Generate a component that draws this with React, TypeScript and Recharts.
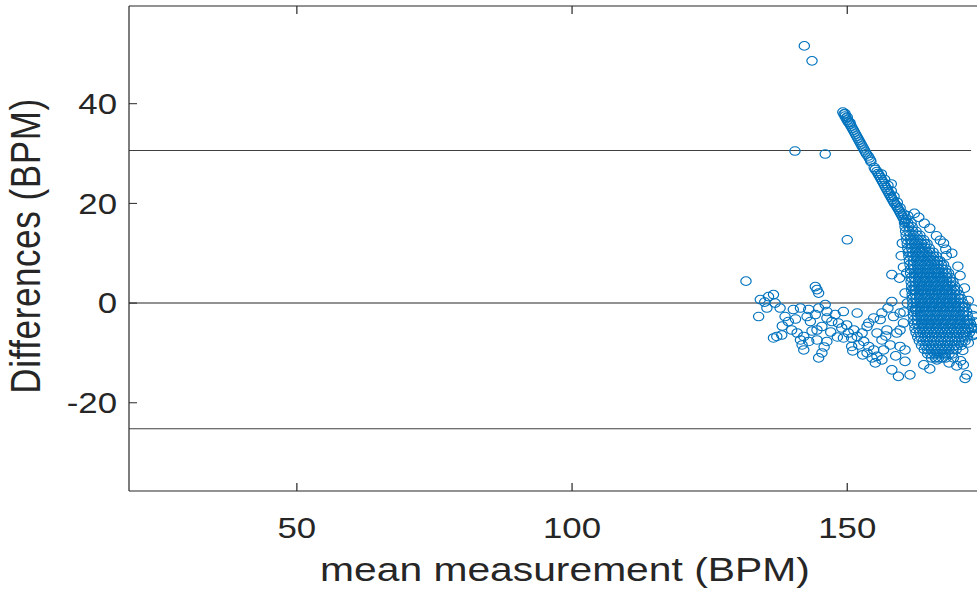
import React from 'react';
import { ScatterChart, Scatter, XAxis, YAxis, ReferenceLine } from 'recharts';

const xTicks = [50, 100, 150];
const yTicks = [-20, 0, 20, 40];
const xDomain: [number, number] = [19.5, 177.9];
const yDomain: [number, number] = [-37.7, 59.6];
const upperLoA = 30.6;
const zeroLine = 0;
const lowerLoA = -25.2;
const lineXRange: [number, number] = [19.5, 172.5];
const xLabelText = 'mean measurement (BPM)';
const yLabelText = 'Differences (BPM)';

const outliers: [number, number][] = [
  [142.2, 51.6], [143.6, 48.6], [140.5, 30.5], [146.0, 29.9], [150.0, 12.7], [131.6, 4.4], [158.0, 23.9],
  [144.2, 3.3], [144.5, 2.7], [144.8, 2.0],
];

const streak: [number, number][] = [
  [149.2, 38.3], [149.6, 38.0], [149.4, 37.9], [149.6, 37.5], [150.0, 37.3], [149.8, 37.1], [150.0, 36.7],
  [150.5, 36.2], [150.2, 36.3], [150.5, 35.9], [150.7, 35.5], [150.9, 35.1], [151.1, 34.7], [151.3, 34.3],
  [151.5, 33.9], [151.7, 33.5], [151.9, 33.1], [152.1, 32.7], [152.3, 32.3], [152.5, 31.9], [152.7, 31.5],
  [152.9, 31.1], [153.1, 30.7], [153.3, 30.3], [153.5, 29.9], [153.8, 29.5], [154.0, 29.1], [154.2, 28.7],
  [154.3, 28.4],
  [154.9, 27.2], [155.1, 26.8], [155.4, 26.4], [155.6, 26.0], [155.8, 25.6], [156.0, 25.2], [156.2, 24.8],
  [156.4, 24.4], [156.6, 24.0], [156.8, 23.6], [157.0, 23.2], [157.2, 22.8], [157.4, 22.4], [157.6, 22.0],
  [157.8, 21.6], [158.0, 21.2], [158.2, 20.8], [158.4, 20.4], [158.6, 20.0], [158.9, 19.6], [159.1, 19.2],
  [159.3, 18.8], [159.5, 18.4], [159.7, 18.0], [159.9, 17.6], [160.1, 17.2], [160.3, 16.8], [160.5, 16.4],
  [156.2, 25.9], [156.8, 24.8], [157.4, 23.6], [158.0, 22.5], [158.5, 21.4], [159.1, 20.2], [159.6, 19.1],
  [160.2, 17.9], [160.7, 16.8],
];

const lowerBand: [number, number][] = [
  [134.2, 0.7], [135.7, 1.3], [136.6, 1.7], [136.9, 0.0], [133.9, -2.7], [135.4, -1.0],
  [137.8, -1.0], [138.7, -2.7], [139.3, -3.7], [140.2, -1.3], [141.5, -1.0], [139.9, -5.4], [140.9, -6.0],
  [137.2, -6.7], [136.6, -7.0], [138.1, -6.4], [141.5, -7.4], [142.1, -6.7], [141.8, -8.4], [142.7, -2.7],
  [143.3, -3.7], [144.2, -2.3], [143.0, -1.3], [144.8, -1.0], [146.0, -0.3], [146.3, -1.7], [144.5, -5.4],
  [145.4, -4.7], [146.3, -3.0], [147.2, -3.7], [147.8, -2.3], [148.4, -4.0], [149.0, -5.0], [149.9, -4.4],
  [150.2, -6.0], [151.2, -5.4], [151.8, -6.7], [150.8, -7.0], [152.7, -6.0], [153.0, -7.7], [152.1, -8.4],
  [153.9, -8.7], [153.6, -10.0], [154.8, -9.4], [154.5, -11.0], [155.4, -10.7], [155.1, -12.0], [156.3, -11.4],
  [144.5, -7.4], [146.3, -7.7], [144.8, -11.0], [145.4, -10.0], [143.0, -7.7], [142.1, -9.4], [153.9, -4.0],
  [156.0, -3.3], [156.3, -2.0], [154.8, -3.0], [157.2, -5.4], [158.1, 0.3], [158.4, -2.7], [159.6, -2.0],
  [160.2, -4.0], [159.0, -6.0], [159.6, -5.4], [156.3, -7.4], [157.8, -8.4], [156.6, -9.4], [159.6, -8.7],
  [160.5, -9.4], [160.5, -11.7], [158.1, -13.4], [159.3, -14.7], [161.4, -14.4], [163.9, -12.4], [166.3, -11.4],
  [169.3, -11.0], [171.1, -12.4], [171.7, -14.4], [171.4, -15.1], [172.6, -5.0], [158.1, 5.7], [160.8, 6.0],
  [162.1, 2.7], [162.4, -1.3], [151.8, -2.0], [149.3, -1.7], [153.6, -4.7], [155.4, -6.0], [149.3, -7.0],
  [150.8, -8.7], [135.0, 0.2], [138.2, -4.6], [140.6, -3.2], [143.6, -5.6], [147.0, -5.8], [148.2, -6.8],
  [151.0, -9.6], [152.8, -10.4], [157.0, -6.6], [158.8, -10.6], [157.4, -1.0], [145.8, -8.8],
];

const blobEdge: [number, number][] = [
  [173.0, -5.0], [172.8, -6.5], [170.6, -11.6], [169.9, -12.6], [168.5, -12.0], [165.0, -13.2], [171.0, -9.5],
  [172.0, -8.0], [167.5, 12.0], [166.2, 13.5], [165.0, 15.0], [164.0, 16.0], [163.0, 17.2], [162.2, 18.0],
  [161.0, 17.5], [160.0, 12.0], [159.8, 9.5], [160.2, 7.2], [159.5, 5.0], [160.5, 2.0], [160.9, 0.0],
  [160.3, -1.8], [169.0, 10.0], [168.0, 9.5], [170.5, 5.5], [171.3, 3.0], [172.0, 0.5], [172.8, -2.5],
  [173.2, -3.8], [172.9, -1.2], [173.1, -6.2], [167.9, 10.8], [166.9, 12.6], [170.1, 7.4],
];

const blobRows: [number, number[]][] = [
  [16.1, [160.4, 161.0, 161.6]],
  [15.3, [160.5, 161.2, 161.8]],
  [14.4, [160.6, 161.2, 161.9, 162.5]],
  [13.6, [160.7, 161.4, 162.0, 162.7, 163.2]],
  [12.7, [160.8, 161.5, 162.1, 162.8, 163.4, 163.9]],
  [11.9, [160.9, 161.6, 162.2, 162.9, 163.5, 164.1, 164.5]],
  [11.0, [161.0, 161.7, 162.3, 163.0, 163.6, 164.2, 164.9]],
  [10.2, [161.1, 161.8, 162.4, 163.1, 163.7, 164.4, 165.0, 165.6]],
  [9.4, [161.2, 161.9, 162.5, 163.2, 163.8, 164.5, 165.1, 165.7, 166.2]],
  [8.5, [161.3, 162.0, 162.6, 163.3, 163.9, 164.6, 165.2, 165.8, 166.4, 166.8]],
  [7.7, [161.4, 162.0, 162.7, 163.3, 164.0, 164.6, 165.3, 165.9, 166.5, 167.1, 167.5]],
  [6.8, [161.5, 162.1, 162.8, 163.4, 164.1, 164.7, 165.4, 166.0, 166.6, 167.3, 167.9]],
  [6.0, [161.5, 162.2, 162.8, 163.5, 164.1, 164.8, 165.4, 166.1, 166.7, 167.4, 168.0, 168.4]],
  [5.1, [161.6, 162.2, 162.9, 163.5, 164.2, 164.8, 165.5, 166.1, 166.8, 167.4, 168.1, 168.7]],
  [4.3, [161.6, 162.3, 162.9, 163.6, 164.2, 164.9, 165.5, 166.2, 166.8, 167.5, 168.1, 168.8, 169.2]],
  [3.4, [161.7, 162.3, 163.0, 163.6, 164.3, 164.9, 165.6, 166.2, 166.9, 167.5, 168.2, 168.8, 169.5]],
  [2.6, [161.7, 162.4, 163.0, 163.7, 164.3, 165.0, 165.6, 166.3, 166.9, 167.6, 168.2, 168.9, 169.5, 170.0]],
  [1.7, [161.8, 162.4, 163.1, 163.7, 164.4, 165.0, 165.7, 166.3, 167.0, 167.6, 168.3, 168.9, 169.6, 170.3]],
  [0.9, [161.8, 162.5, 163.1, 163.8, 164.4, 165.1, 165.7, 166.4, 167.0, 167.7, 168.3, 169.0, 169.6, 170.3, 170.7]],
  [0.0, [161.9, 162.5, 163.2, 163.8, 164.5, 165.1, 165.8, 166.4, 167.1, 167.7, 168.4, 169.0, 169.7, 170.3, 171.0]],
  [-0.8, [161.9, 162.6, 163.2, 163.9, 164.5, 165.2, 165.8, 166.5, 167.1, 167.8, 168.4, 169.1, 169.7, 170.4, 171.0, 171.4]],
  [-1.7, [162.0, 162.6, 163.3, 163.9, 164.6, 165.2, 165.9, 166.5, 167.2, 167.8, 168.5, 169.1, 169.8, 170.4, 171.1, 171.7]],
  [-2.5, [162.0, 162.7, 163.3, 164.0, 164.6, 165.3, 165.9, 166.6, 167.2, 167.9, 168.5, 169.2, 169.8, 170.5, 171.1, 171.8]],
  [-3.4, [162.1, 162.7, 163.4, 164.0, 164.7, 165.3, 166.0, 166.6, 167.3, 167.9, 168.6, 169.2, 169.9, 170.5, 171.2, 171.8, 172.2]],
  [-4.2, [162.2, 162.8, 163.5, 164.1, 164.8, 165.4, 166.1, 166.7, 167.4, 168.0, 168.7, 169.3, 170.0, 170.6, 171.3, 171.9, 172.4]],
  [-5.1, [162.3, 163.0, 163.6, 164.3, 164.9, 165.6, 166.2, 166.9, 167.5, 168.2, 168.8, 169.5, 170.1, 170.8, 171.4, 172.0, 172.5]],
  [-5.9, [162.5, 163.2, 163.8, 164.5, 165.1, 165.8, 166.4, 167.1, 167.7, 168.4, 169.0, 169.7, 170.3, 171.0, 171.6, 172.2]],
  [-6.8, [162.8, 163.4, 164.1, 164.7, 165.4, 166.0, 166.7, 167.3, 168.0, 168.6, 169.3, 169.9, 170.6, 171.2, 171.8]],
  [-7.6, [163.1, 163.8, 164.4, 165.1, 165.7, 166.4, 167.0, 167.7, 168.3, 169.0, 169.6, 170.3, 170.9, 171.4]],
  [-8.5, [163.5, 164.2, 164.8, 165.5, 166.1, 166.8, 167.4, 168.1, 168.7, 169.4, 170.0, 170.7]],
  [-9.3, [164.0, 164.6, 165.3, 165.9, 166.6, 167.2, 167.9, 168.5, 169.2, 169.8]],
  [-10.2, [164.6, 165.2, 165.9, 166.5, 167.2, 167.8, 168.5, 169.1]],
  [-11.0, [165.3, 166.0, 166.6, 167.3, 167.9]],
];

const points = [
  ...outliers, ...streak, ...lowerBand, ...blobEdge,
  ...blobRows.flatMap(([y, xs]) => xs.map((x) => [x, y] as [number, number])),
].map(([x, y]) => ({ x, y }));

const FONT = "'Liberation Sans', Arial, Helvetica, sans-serif";
const INK = '#262626';
const BLUE = '#0072BD';
const X_TICK_MARGIN = 26;
const Y_TICK_MARGIN = 10;
const X_TICK_LEN = 8;
const Y_TICK_LEN = 6.7;

const Marker = (props: any) => {
  const { cx, cy } = props;
  if (cx == null || cy == null) return null;
  return <circle cx={cx} cy={cy} r={4.3} fill="none" stroke={BLUE} strokeWidth={1} />;
};

const BottomTick = (props: any) => {
  const { x, y, payload } = props;
  const axisY = y - X_TICK_MARGIN;
  return (
    <g>
      <line x1={x} x2={x} y1={axisY} y2={axisY - X_TICK_LEN} stroke={INK} strokeWidth={1} />
      <text x={x} y={y} dy="0.71em" textAnchor="middle" fontSize={29} fontFamily={FONT} fill={INK}>
        {payload.value}
      </text>
    </g>
  );
};

const TopTick = (props: any) => {
  const { x, y } = props;
  return <line x1={x} x2={x} y1={y} y2={y + X_TICK_LEN} stroke={INK} strokeWidth={1} />;
};

const LeftTick = (props: any) => {
  const { x, y, payload } = props;
  const axisX = x + Y_TICK_MARGIN;
  return (
    <g>
      <line x1={axisX} x2={axisX + Y_TICK_LEN} y1={y} y2={y} stroke={INK} strokeWidth={1} />
      <text x={x} y={y} dy="0.355em" textAnchor="end" fontSize={29} fontFamily={FONT} fill={INK}>
        {payload.value}
      </text>
    </g>
  );
};

const renderXLabel = (props: any) => {
  const vb = props.viewBox || { x: 107.5, y: 491, width: 726.5, height: 60 };
  return (
    <text x={vb.x + vb.width / 2} y={vb.y + 90} textAnchor="middle" fontSize={34} fontFamily={FONT} fill={INK}>
      {xLabelText}
    </text>
  );
};

const renderYLabel = (props: any) => {
  const vb = props.viewBox || { x: 7.5, y: 6, width: 100, height: 485 };
  const x = vb.x + 26;
  const y = vb.y + vb.height / 2 - 2.5;
  return (
    <text x={x} y={y} transform={`rotate(-90, ${x}, ${y})`} textAnchor="middle" fontSize={35} letterSpacing={0.6} fontFamily={FONT} fill={INK}>
      {yLabelText}
    </text>
  );
};

export default function App() {
  return (
    <div style={{ position: 'fixed', left: 0, top: 0, width: 977, height: 592, overflow: 'hidden', background: '#fff' }}>
      <div style={{ transform: 'scaleX(1.2)', transformOrigin: '0 0', width: 840, height: 592 }}>
        <ScatterChart width={840} height={592} margin={{ top: 5, right: 6, bottom: 41, left: 7.5 }}>
          <XAxis
            dataKey="x"
            type="number"
            domain={xDomain}
            allowDataOverflow
            ticks={xTicks}
            interval={0}
            height={60}
            tickSize={0}
            tickMargin={X_TICK_MARGIN}
            axisLine={{ stroke: INK }}
            tickLine={false}
            tick={<BottomTick />}
            label={renderXLabel}
          />
          <XAxis
            xAxisId="top"
            dataKey="x"
            orientation="top"
            type="number"
            domain={xDomain}
            allowDataOverflow
            ticks={xTicks}
            interval={0}
            height={1}
            tickSize={0}
            tickMargin={0}
            axisLine={{ stroke: INK }}
            tickLine={false}
            tick={<TopTick />}
          />
          <YAxis
            dataKey="y"
            type="number"
            domain={yDomain}
            allowDataOverflow
            ticks={yTicks}
            interval={0}
            width={100}
            tickSize={0}
            tickMargin={Y_TICK_MARGIN}
            axisLine={{ stroke: INK }}
            tickLine={false}
            tick={<LeftTick />}
            label={renderYLabel}
          />
          <Scatter data={points} shape={Marker} isAnimationActive={false} />
          <ReferenceLine segment={[{ x: lineXRange[0], y: upperLoA }, { x: lineXRange[1], y: upperLoA }]} stroke="#404040" strokeWidth={1} />
          <ReferenceLine segment={[{ x: lineXRange[0], y: zeroLine }, { x: lineXRange[1], y: zeroLine }]} stroke="#262626" strokeWidth={1} />
          <ReferenceLine segment={[{ x: lineXRange[0], y: lowerLoA }, { x: lineXRange[1], y: lowerLoA }]} stroke="#404040" strokeWidth={1} />
        </ScatterChart>
      </div>
    </div>
  );
}
